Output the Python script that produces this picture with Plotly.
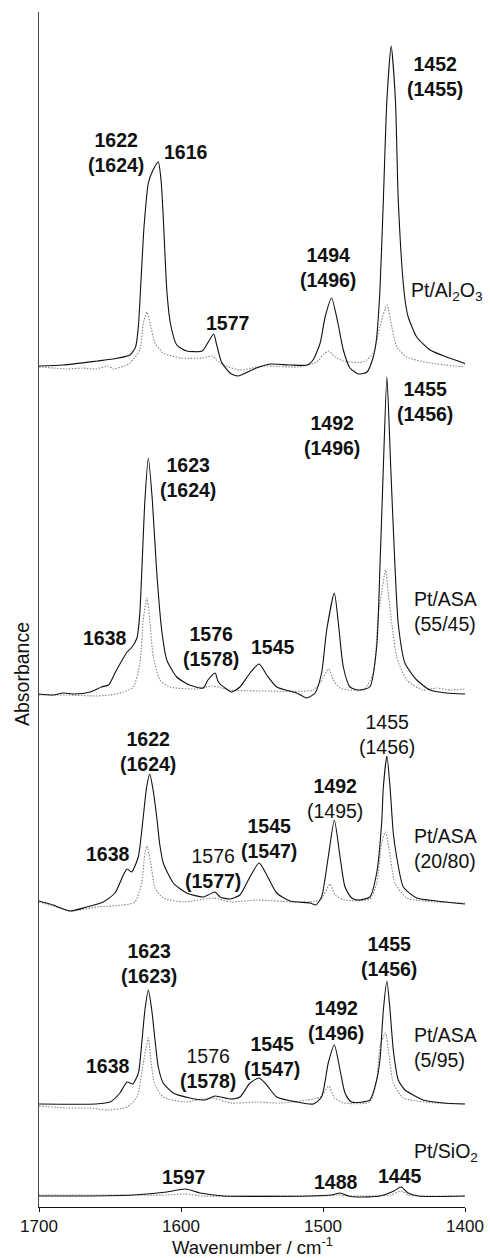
import plotly.graph_objects as go

# Infrared spectra of pyridine adsorbed on Pt catalysts (solid) and on the bare
# supports (dotted).  Absorbance values are given in units of 0.01 a.u. above
# each spectrum's own baseline.

al2o3_wn = [1700, 1683, 1659, 1648, 1636, 1632, 1630, 1628, 1626, 1623, 1620, 1616, 1614,
            1612.5, 1610, 1607.5, 1603, 1596, 1585, 1582, 1577, 1575, 1571.5, 1565.5, 1560,
            1547, 1537, 1523, 1511, 1507, 1502, 1498.5, 1494, 1489.5, 1485.7, 1481, 1475,
            1469, 1464.6, 1462.5, 1460, 1457.5, 1455, 1452, 1449, 1447, 1443.5, 1441.5,
            1440, 1434, 1424.6, 1413, 1401, 1400]
al2o3_abs = [0, 1, 5, 7, 11, 19, 40, 90, 140, 183, 195, 204, 185,
             149, 76, 43, 21, 15, 15, 21, 32, 22, 4, -7, -10,
             -2, 2, 1, 1, 6, 23, 49, 68, 43, 16, -2, -8,
             -6, 9, 25, 73, 166, 266, 320, 266, 166, 83, 59,
             49, 29, 16, 9, 3, 2]
al2o3_ref_wn = [1700, 1690, 1680, 1670, 1660, 1651, 1648, 1640, 1636, 1629, 1626.5, 1624,
                1621.8, 1618.3, 1612.5, 1600, 1585, 1578, 1575, 1570, 1558.5, 1542, 1518,
                1504.4, 1500, 1496, 1491.5, 1485.7, 1471.6, 1464.6, 1460, 1455, 1451.5,
                1448, 1441, 1424.6, 1400]
al2o3_ref_abs = [-1, -2, -3, -2, -3, 0, -3, 0, 3, 16, 43, 54,
                 43, 23, 13, 8, 8, 10, 6, 1, -4, 0, -1,
                 4, 11, 15, 9, 5, 4, 13, 39, 61, 39,
                 19, 9, 3, -1]

asa55_wn = [1700, 1690, 1683, 1675, 1664, 1656, 1651, 1646.5, 1641, 1638, 1635, 1631, 1629,
            1627.7, 1625.4, 1623, 1620.2, 1617.1, 1613.6, 1610, 1603, 1594, 1584.3, 1581,
            1576, 1573.7, 1568, 1564.3, 1558.5, 1551.4, 1545, 1539.6, 1532.6, 1518.5,
            1511.5, 1505.6, 1501, 1497.4, 1492, 1489.2, 1485.7, 1481, 1475, 1467, 1462.2,
            1459.9, 1457.5, 1455, 1452.3, 1449.3, 1447, 1442.3, 1434, 1424.6, 1413, 1400]
asa55_abs = [0, -1, 1, 0, 2, 7, 9, 21, 35, 42, 46, 56, 81,
             120, 194, 236, 194, 122, 64, 34, 17, 9, 6, 14,
             21, 12, 5, 2, 7, 21, 30, 19, 7, 1,
             -4, 1, 21, 64, 101, 71, 27, 7, 4, 7, 47,
             127, 227, 317, 227, 127, 70, 31, 14, 4, 1, 0]
asa55_ref_wn = [1700, 1680, 1660, 1650, 1640.6, 1633.6, 1628.9, 1626.6, 1624, 1622, 1619.5,
                1614.8, 1607.7, 1589, 1578, 1565.5, 1542, 1506.8, 1502, 1496, 1492.7, 1488,
                1471.6, 1464.6, 1461, 1458.7, 1456, 1454, 1451.5, 1448.1, 1441, 1429.4,
                1420, 1410, 1400]
asa55_ref_abs = [-1, -1, -2, -1, 2, 7, 31, 74, 96, 74, 37,
                 14, 7, 5, 8, 4, 3, 4, 11, 25, 14, 6,
                 4, 21, 81, 101, 124, 101, 70, 37, 14, 4,
                 6, 4, 5]

asa20_wn = [1700, 1690, 1678, 1666.4, 1654.7, 1646.5, 1640.6, 1638, 1634.8, 1630.1, 1626.6,
            1624.2, 1622, 1620, 1617.1, 1615, 1612.5, 1605.4, 1596, 1584.3, 1576, 1572.5,
            1565.5, 1558.5, 1552.6, 1545, 1539.6, 1532.6, 1523.2, 1509, 1505, 1501, 1496.3,
            1492, 1488, 1484.5, 1479.8, 1475, 1467, 1462.2, 1458.7, 1457.5, 1455, 1452.8,
            1450.5, 1448.1, 1443.4, 1434, 1420, 1400]
asa20_abs = [3, -1, -7, -3, 2, 11, 29, 35, 32, 47, 87,
             117, 130, 117, 87, 60, 41, 21, 11, 7, 12, 7,
             5, 9, 24, 41, 29, 11, 3, 1, -1, 7, 47,
             84, 47, 17, 6, 4, 7, 31, 81, 117, 148, 117,
             71, 47, 17, 6, 3, 0]
asa20_ref_wn = [1700, 1690, 1678, 1659.4, 1640.6, 1632.4, 1627.7, 1625.4, 1624, 1621.3, 1618.3,
                1612.5, 1598.4, 1577, 1565, 1547, 1520, 1502, 1495, 1491.5, 1485, 1467,
                1462.2, 1458.7, 1456, 1453.3, 1449.3, 1441, 1420, 1400]
asa20_ref_abs = [2, -2, -7, -3, -1, 2, 21, 51, 58, 41, 16,
                 6, 2, 6, 2, 4, 2, 4, 20, 9, 4, 5,
                 21, 61, 72, 54, 21, 6, 2, 1]

asa5_wn = [1700, 1660, 1650, 1643, 1638, 1634, 1630, 1627.7, 1625.4, 1623, 1620.6, 1618.3,
           1616, 1612.5, 1605.4, 1593.7, 1583, 1576, 1565.5, 1558.5, 1551.4, 1545, 1539.6,
           1532.6, 1518.5, 1506.8, 1501, 1496.3, 1492, 1488, 1484.5, 1480, 1467, 1462.2,
           1459.9, 1457.5, 1455, 1452.8, 1450.5, 1447, 1442.3, 1436.4, 1429.4, 1415, 1400]
asa5_abs = [0, 0, 2, 11, 22, 20, 31, 60, 94, 114, 94, 64,
            37, 21, 11, 6, 4, 8, 5, 7, 21, 26, 19,
            7, 2, 0, 7, 41, 59, 34, 11, 2, 4, 24,
            44, 94, 123, 94, 54, 24, 14, 9, 4, 1, 0]
asa5_ref_wn = [1700, 1680, 1665, 1652, 1638, 1631, 1626.6, 1623, 1621, 1618.3, 1612.5, 1598,
               1578, 1565, 1547, 1530, 1502, 1496, 1492, 1485, 1467, 1462.2, 1459.9, 1456,
               1453.3, 1450.5, 1443.4, 1420, 1400]
asa5_ref_abs = [-2, -4, -4, -6, -3, 7, 41, 66, 41, 19, 7, 2,
                6, 1, 2, 1, 7, 18, 6, 1, 2, 24, 57, 71,
                47, 21, 6, 1, 0]

sio2_wn = [1700, 1671, 1633.6, 1610, 1597, 1586.6, 1570, 1510, 1494, 1488, 1482, 1476, 1460,
           1450, 1445, 1440, 1433, 1400]
sio2_abs = [0, 0, 1, 4, 7, 3, 0, 0, 1, 3, 0, -1, 0,
            5, 9, 3, 0, 0]
sio2_ref_wn = [1700, 1650, 1610, 1597, 1585, 1560, 1500, 1490, 1480, 1452, 1445, 1440, 1430, 1400]
sio2_ref_abs = [1, 1, 1, 2, 0, 0, 0, 1, 0, 1, 5, 1, 0, 0]

# (catalyst spectrum, support spectrum, vertical stacking offset)
spectra = [
    ((al2o3_wn, al2o3_abs), (al2o3_ref_wn, al2o3_ref_abs), 8.41),
    ((asa55_wn, asa55_abs), (asa55_ref_wn, asa55_ref_abs), 5.13),
    ((asa20_wn, asa20_abs), (asa20_ref_wn, asa20_ref_abs), 3.03),
    ((asa5_wn, asa5_abs), (asa5_ref_wn, asa5_ref_abs), 1.03),
    ((sio2_wn, sio2_abs), (sio2_ref_wn, sio2_ref_abs), 0.11),
]

x_ticks = [1700, 1600, 1500, 1400]

FONT = "Liberation Sans, Arial, Helvetica, sans-serif"
INK = "#111111"

fig = go.Figure()
for (wn, ab), (rwn, rab), off in spectra:
    fig.add_trace(go.Scatter(
        x=rwn, y=[off + v / 100 for v in rab], mode="lines",
        line=dict(color="#858585", width=1.1, dash="1.5px,1.5px",
                  shape="spline", smoothing=0.6),
        hoverinfo="skip", showlegend=False))
    fig.add_trace(go.Scatter(
        x=wn, y=[off + v / 100 for v in ab], mode="lines",
        line=dict(color=INK, width=1.1, shape="spline", smoothing=0.6),
        hoverinfo="skip", showlegend=False))


def b(s):
    return f"<b>{s}</b>"


# Band assignments: (text, wavenumber, y) -- catalyst value above support value
band_labels = [
    (b("1452") + "<br>" + b("(1455)"), 1421.0, 11.31),
    (b("1622") + "<br>" + b("(1624)"), 1645.6, 10.55),
    (b("1616"), 1596.5, 10.555),
    (b("1494") + "<br>" + b("(1496)"), 1496.6, 9.40),
    (b("1577"), 1567.6, 8.84),

    (b("1455") + "<br>" + b("(1456)"), 1428.0, 8.055),
    (b("1623") + "<br>" + b("(1624)"), 1595.1, 7.30),
    (b("1492") + "<br>" + b("(1496)"), 1493.7, 7.715),
    (b("1638"), 1653.3, 5.695),
    (b("1576") + "<br>" + b("(1578)"), 1578.6, 5.607),
    (b("1545"), 1535.2, 5.603),

    (b("1622") + "<br>" + b("(1624)"), 1623.0, 4.553),
    ("1455<br>(1456)", 1454.6, 4.725),
    (b("1492") + "<br>(1495)", 1491.6, 4.09),
    (b("1638"), 1651.4, 3.53),
    ("1576<br>" + b("(1577)"), 1577.6, 3.39),
    (b("1545") + "<br>" + b("(1547)"), 1537.8, 3.685),

    (b("1623") + "<br>" + b("(1623)"), 1622.4, 2.435),
    (b("1455") + "<br>" + b("(1456)"), 1453.6, 2.507),
    (b("1492") + "<br>" + b("(1496)"), 1490.9, 1.865),
    (b("1638"), 1651.4, 1.412),
    ("1576<br>" + b("(1578)"), 1581.0, 1.39),
    (b("1545") + "<br>" + b("(1547)"), 1536.1, 1.505),

    (b("1597"), 1598.0, 0.30), (b("1488"), 1491.2, 0.25), (b("1445"), 1446.1, 0.31),
]

# Sample names: (text, wavenumber of left edge, y)
sample_labels = [
    ("Pt/Al<sub>2</sub>O<sub>3</sub>", 1439.2, 9.155),
    ("Pt/ASA<br>(55/45)", 1437.5, 5.96),
    ("Pt/ASA<br>(20/80)", 1437.5, 3.59),
    ("Pt/ASA<br>(5/95)", 1437.5, 1.60),
    ("Pt/SiO<sub>2</sub>", 1437.2, 0.55),
]

annotations = []
for text, x, y in band_labels:
    annotations.append(dict(
        x=x, y=y, xref="x", yref="y", showarrow=False, text=text,
        xanchor="center", yanchor="middle", align="center",
        font=dict(family=FONT, size=19.5, color=INK)))
for text, x, y in sample_labels:
    annotations.append(dict(
        x=x, y=y, xref="x", yref="y", showarrow=False, text=text,
        xanchor="left", yanchor="middle", align="left",
        font=dict(family=FONT, size=19.5, color=INK)))

annotations.append(dict(
    x=0.5, y=-0.0324, xref="paper", yref="paper", showarrow=False,
    text="Wavenumber / cm<sup>-1</sup>", xanchor="center", yanchor="middle",
    font=dict(family=FONT, size=18.5, color=INK)))
annotations.append(dict(
    x=-0.0399, y=0.446, xref="paper", yref="paper", showarrow=False,
    text="Absorbance", textangle=-90, xanchor="center", yanchor="middle",
    font=dict(family=FONT, size=19.5, color=INK)))

fig.update_layout(
    width=490, height=1258,
    margin=dict(l=39, r=25, t=12, b=51),
    paper_bgcolor="white", plot_bgcolor="white",
    font=dict(family=FONT, color=INK),
    showlegend=False,
    annotations=annotations,
    xaxis=dict(
        range=[1700, 1400], tickvals=x_ticks, ticktext=[str(t) for t in x_ticks],
        ticks="outside", ticklen=4, tickwidth=1, tickcolor=INK,
        showline=True, linecolor=INK, linewidth=1,
        showgrid=False, zeroline=False, automargin=False,
        tickfont=dict(family=FONT, size=17, color=INK)),
    yaxis=dict(
        range=[0, 11.95], showticklabels=False, ticks="",
        showline=True, linecolor="#444444", linewidth=1,
        showgrid=False, zeroline=False, automargin=False),
)

fig.write_html("out.html")
